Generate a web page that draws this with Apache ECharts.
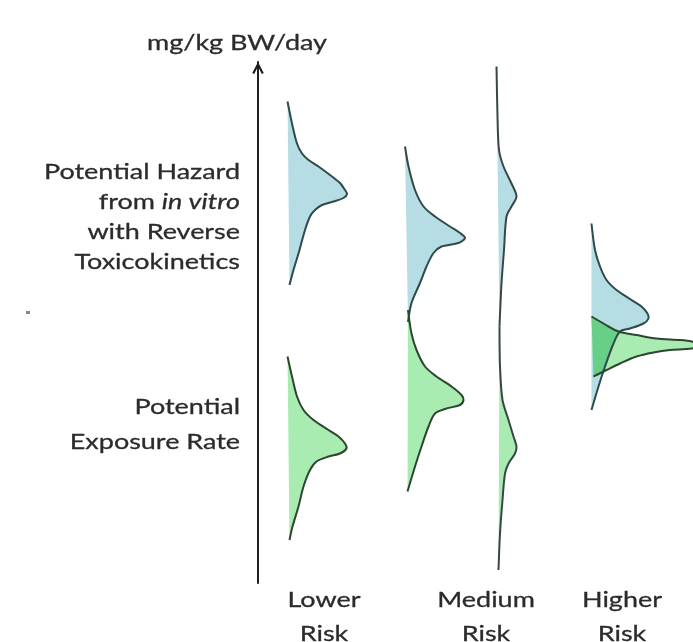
<!DOCTYPE html>
<html>
<head>
<meta charset="utf-8">
<script src="https://cdn.jsdelivr.net/npm/echarts@6/dist/echarts.min.js"></script>
<style>
html,body{margin:0;padding:0;background:#fff;}
#chart{width:693px;height:642px;}
</style>
</head>
<body>
<div id="chart"></div>
<script>
// ---- Data (schematic units: x = position/density, y = dose level, mg/kg BW/day) ----
const riskLabels = ['Lower\nRisk', 'Medium\nRisk', 'Higher\nRisk'];
const axisTitle = 'mg/kg BW/day';
const hazardLabel = ['Potential Hazard', 'from in vitro', 'with Reverse', 'Toxicokinetics'];
const exposureLabel = ['Potential', 'Exposure Rate'];

// Lower risk: hazard (blue) and exposure (green)
const lowerHazard = [[5.9,96.3],[6.8,91.9],[7.8,87.9],[8.8,85.9],[10.1,84.6],[12.1,83.3],[14.8,81.3],[16.4,80.0],[17.4,78.6],[17.8,77.8],[17.1,77.0],[15.1,76.3],[12.8,75.6],[11.4,74.6],[10.4,73.3],[9.4,70.6],[8.3,66.6],[7.1,62.6],[6.3,59.6]];
const lowerExposure = [[5.9,45.3],[6.8,41.3],[7.8,37.3],[9.1,34.6],[11.1,32.6],[14.1,30.6],[16.1,29.3],[17.4,27.9],[17.7,26.9],[16.4,25.9],[14.1,25.3],[11.7,24.3],[10.4,22.6],[9.1,19.3],[8.1,15.3],[6.9,11.3],[6.3,8.6]];

// Medium risk: narrow pair
const mediumHazard = [[29.4,87.3],[30.1,83.3],[31.4,78.6],[33.1,75.3],[35.4,73.3],[38.4,71.3],[40.4,70.0],[41.4,69.0],[40.1,68.0],[36.7,67.3],[35.1,66.0],[33.7,63.3],[32.4,60.0],[30.7,56.0],[30.0,52.2]];
const mediumExposure = [[30.0,54.6],[30.7,49.9],[31.7,46.6],[33.4,43.3],[35.7,41.3],[38.7,39.3],[40.7,37.6],[41.1,36.6],[40.4,35.6],[37.7,34.9],[35.4,33.9],[34.1,31.3],[32.7,27.3],[31.4,23.3],[29.9,18.3]];

// Medium risk: wide pair
const mediumWideHazard = [[47.7,103.3],[47.9,93.3],[48.2,86.6],[49.1,83.3],[50.7,79.9],[51.7,77.3],[50.7,75.3],[49.7,73.3],[49.2,66.6],[48.7,59.9],[48.3,51.3]];
const mediumWideExposure = [[48.3,51.3],[48.4,43.3],[48.9,36.6],[50.1,32.6],[51.1,29.3],[51.7,27.3],[51.4,25.9],[50.1,23.9],[49.4,21.9],[48.9,16.6],[48.4,9.9],[48.1,2.6]];

// Higher risk
const higherHazard = [[66.7,71.9],[67.4,66.6],[68.4,63.3],[69.7,60.6],[71.7,58.6],[74.7,56.6],[76.7,55.3],[77.9,53.9],[78.1,52.9],[77.1,51.9],[74.4,50.9],[72.4,50.3],[71.1,47.9],[69.4,43.3],[68.1,39.3],[66.7,34.6]];
const higherExposure = [[66.7,53.3],[69.1,51.9],[72.1,50.3],[75.7,49.6],[79.7,48.9],[84.4,48.6],[86.7,48.3],[88.4,47.6],[86.7,46.9],[82.4,46.6],[79.1,46.1],[75.7,45.3],[72.4,43.9],[69.7,42.6],[67.7,41.6],[67.1,41.3]];
const higherOverlap = [[66.7,53.3],[69.1,51.9],[72.1,50.3],[71.1,47.9],[69.4,43.3],[69.0,42.4],[67.7,41.6],[67.1,41.3]];

// ---- Styles ----
const BLUE_FILL = '#b5dde3';
const GREEN_FILL = '#a8ecb2';
const OVERLAP_FILL = '#68cf86';
const BLUE_LINE = '#2f4a4a';
const GREEN_LINE = '#2c462f';
const FONT = 'Lato';
const FS = 22;
const TEXT_COLOR = '#2b2b2b';

function curve(name, pts, fill, stroke, z) {
  return {
    type: 'custom', name: name, data: pts, z: z, silent: true, clip: false,
    encode: { x: 0, y: 1 },
    renderItem: function (params, api) {
      if (params.dataIndex !== 0) return;
      const coords = pts.map(function (p) { return api.coord(p); });
      return {
        type: 'polyline',
        shape: { points: coords, smooth: 0.3 },
        style: { fill: fill || null, stroke: stroke || null, lineWidth: 2 }
      };
    }
  };
}

const curves = [
  ['lowerHazard', lowerHazard, BLUE_FILL, BLUE_LINE],
  ['mediumHazard', mediumHazard, BLUE_FILL, BLUE_LINE],
  ['mediumWideHazard', mediumWideHazard, BLUE_FILL, '#3a4646'],
  ['higherHazard', higherHazard, BLUE_FILL, BLUE_LINE],
  ['lowerExposure', lowerExposure, GREEN_FILL, GREEN_LINE],
  ['mediumExposure', mediumExposure, GREEN_FILL, GREEN_LINE],
  ['mediumWideExposure', mediumWideExposure, GREEN_FILL, '#3a4646'],
  ['higherExposure', higherExposure, GREEN_FILL, GREEN_LINE]
];

const series = [];
curves.forEach(function (c) { series.push(curve(c[0] + 'Fill', c[1], c[2], null, 2)); });
series.push(curve('higherOverlap', higherOverlap, OVERLAP_FILL, null, 2));
curves.forEach(function (c) { series.push(curve(c[0] + 'Line', c[1], null, c[3], 3)); });

// measure text to reproduce the wide lettering of the reference
const ctx = document.createElement('canvas').getContext('2d');
ctx.font = FS + 'px ' + FONT;
const sx = 196 / ctx.measureText('Potential Hazard').width;

function label(text, x, y, align, rich) {
  const st = { text: text, fontFamily: FONT, fontSize: FS, fill: TEXT_COLOR, align: align, verticalAlign: 'middle',
               stroke: TEXT_COLOR, lineWidth: 0.3 };
  if (rich) st.rich = rich;
  return { type: 'text', x: x, y: y, scaleX: sx, silent: true, style: st };
}

const graphics = [];
graphics.push(label(axisTitle, 237, 43, 'center'));
graphics.push(label(hazardLabel[0], 240, 172, 'right'));
graphics.push(label('{n|from }{i|in vitro}', 240, 202, 'right', {
  n: { fontFamily: FONT, fontSize: FS, fill: TEXT_COLOR },
  i: { fontFamily: FONT, fontSize: FS, fill: TEXT_COLOR, fontStyle: 'italic' }
}));
graphics.push(label(hazardLabel[2], 240, 232, 'right'));
graphics.push(label(hazardLabel[3], 240, 262, 'right'));
graphics.push(label(exposureLabel[0], 240, 407, 'right'));
graphics.push(label(exposureLabel[1], 240, 442, 'right'));
const riskX = [324, 486, 622];
riskLabels.forEach(function (t, i) {
  const parts = t.split('\n');
  graphics.push(label(parts[0], riskX[i], 600, 'center'));
  graphics.push(label(parts[1], riskX[i], 634, 'center'));
});
graphics.push({ type: 'rect', shape: { x: 26, y: 311, width: 4, height: 3 }, style: { fill: '#888' }, silent: true });

const chart = echarts.init(document.getElementById('chart'), null, { renderer: 'canvas' });
chart.setOption({
  animation: false,
  backgroundColor: '#fff',
  grid: { left: 258, right: 0, top: 62, bottom: 59, containLabel: false },
  xAxis: { type: 'value', min: 0, max: 87, show: false },
  yAxis: {
    type: 'value', min: 0, max: 104.2,
    axisLine: {
      show: true,
      lineStyle: { color: '#1e1e1e', width: 2 },
      symbol: ['none', 'path://M0,9.5 L5,0 L10,9.5 L8.3,10.4 L5,4 L1.7,10.4 Z'],
      symbolSize: [15, 12],
      symbolOffset: [0, -6]
    },
    axisTick: { show: false },
    axisLabel: { show: false },
    splitLine: { show: false }
  },
  series: series,
  graphic: graphics
});
</script>
</body>
</html>
